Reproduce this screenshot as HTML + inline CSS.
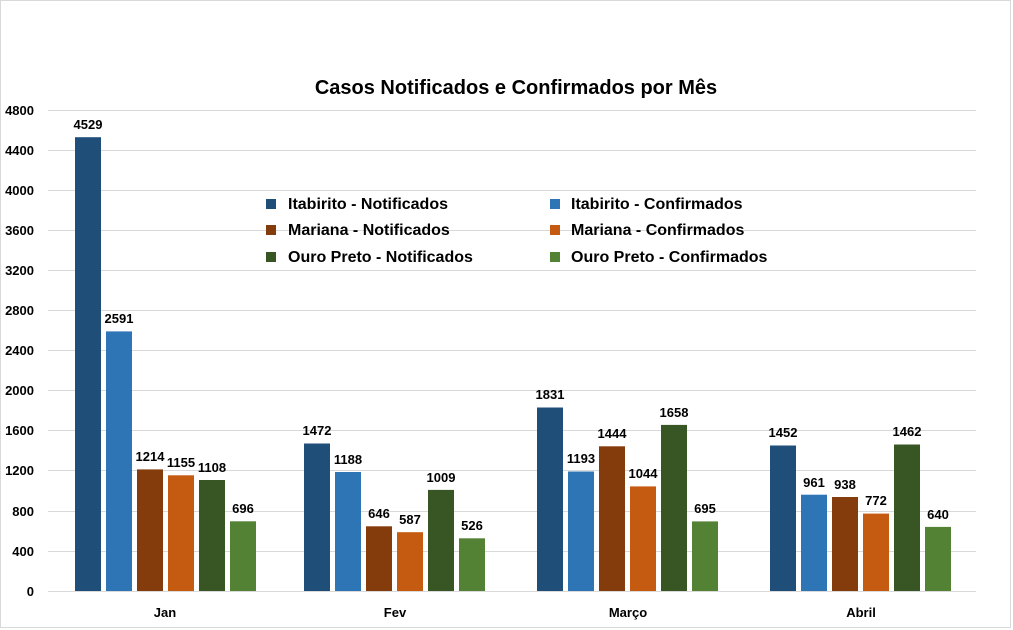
<!DOCTYPE html>
<html><head><meta charset="utf-8"><style>
html,body{margin:0;padding:0;background:#fff}
svg{display:block;font-family:"Liberation Sans",Arial,sans-serif}
</style></head><body>
<svg width="1013" height="630" xmlns="http://www.w3.org/2000/svg">
<rect x="0.5" y="0.5" width="1010" height="627" fill="#fff" stroke="#d9d9d9"/>
<text x="516" y="94" text-anchor="middle" font-size="20" font-weight="bold" fill="#000">Casos Notificados e Confirmados por Mês</text>
<g stroke="#d9d9d9" stroke-width="1">
<line x1="48" x2="976" y1="110.5" y2="110.5"/><line x1="48" x2="976" y1="150.5" y2="150.5"/>
<line x1="48" x2="976" y1="190.5" y2="190.5"/><line x1="48" x2="976" y1="230.5" y2="230.5"/>
<line x1="48" x2="976" y1="270.5" y2="270.5"/><line x1="48" x2="976" y1="310.5" y2="310.5"/>
<line x1="48" x2="976" y1="350.5" y2="350.5"/><line x1="48" x2="976" y1="390.5" y2="390.5"/>
<line x1="48" x2="976" y1="430.5" y2="430.5"/><line x1="48" x2="976" y1="470.5" y2="470.5"/>
<line x1="48" x2="976" y1="511.5" y2="511.5"/><line x1="48" x2="976" y1="551.5" y2="551.5"/>
<line x1="48" x2="976" y1="591.5" y2="591.5"/>
</g>
<g font-size="13" font-weight="bold" text-anchor="end" fill="#000">
<text x="34" y="115">4800</text><text x="34" y="155">4400</text><text x="34" y="195">4000</text>
<text x="34" y="235">3600</text><text x="34" y="275">3200</text><text x="34" y="315">2800</text>
<text x="34" y="355">2400</text><text x="34" y="395">2000</text><text x="34" y="435">1600</text>
<text x="34" y="475">1200</text><text x="34" y="516">800</text><text x="34" y="556">400</text>
<text x="34" y="596">0</text>
</g>
<g>
<rect x="75" y="137.2" width="26" height="453.8" fill="#1f4e79"/>
<rect x="106" y="331.4" width="26" height="259.6" fill="#2e75b6"/>
<rect x="137" y="469.4" width="26" height="121.6" fill="#843c0c"/>
<rect x="168" y="475.3" width="26" height="115.7" fill="#c55a11"/>
<rect x="199" y="480" width="26" height="111" fill="#375623"/>
<rect x="230" y="521.3" width="26" height="69.7" fill="#548235"/>
<rect x="304" y="443.5" width="26" height="147.5" fill="#1f4e79"/>
<rect x="335" y="472" width="26" height="119" fill="#2e75b6"/>
<rect x="366" y="526.3" width="26" height="64.7" fill="#843c0c"/>
<rect x="397" y="532.2" width="26" height="58.8" fill="#c55a11"/>
<rect x="428" y="489.9" width="26" height="101.1" fill="#375623"/>
<rect x="459" y="538.3" width="26" height="52.7" fill="#548235"/>
<rect x="537" y="407.5" width="26" height="183.5" fill="#1f4e79"/>
<rect x="568" y="471.5" width="26" height="119.5" fill="#2e75b6"/>
<rect x="599" y="446.3" width="26" height="144.7" fill="#843c0c"/>
<rect x="630" y="486.4" width="26" height="104.6" fill="#c55a11"/>
<rect x="661" y="424.9" width="26" height="166.1" fill="#375623"/>
<rect x="692" y="521.4" width="26" height="69.6" fill="#548235"/>
<rect x="770" y="445.5" width="26" height="145.5" fill="#1f4e79"/>
<rect x="801" y="494.7" width="26" height="96.3" fill="#2e75b6"/>
<rect x="832" y="497" width="26" height="94" fill="#843c0c"/>
<rect x="863" y="513.6" width="26" height="77.4" fill="#c55a11"/>
<rect x="894" y="444.5" width="26" height="146.5" fill="#375623"/>
<rect x="925" y="526.9" width="26" height="64.1" fill="#548235"/>
</g>
<g font-size="13" font-weight="bold" text-anchor="middle" fill="#000">
<text x="88" y="129">4529</text><text x="119" y="323">2591</text><text x="150" y="461">1214</text>
<text x="181" y="467">1155</text><text x="212" y="472">1108</text><text x="243" y="513">696</text>
<text x="317" y="435">1472</text><text x="348" y="464">1188</text><text x="379" y="518">646</text>
<text x="410" y="524">587</text><text x="441" y="482">1009</text><text x="472" y="530">526</text>
<text x="550" y="399">1831</text><text x="581" y="463">1193</text><text x="612" y="438">1444</text>
<text x="643" y="478">1044</text><text x="674" y="417">1658</text><text x="705" y="513">695</text>
<text x="783" y="437">1452</text><text x="814" y="487">961</text><text x="845" y="489">938</text>
<text x="876" y="505">772</text><text x="907" y="436">1462</text><text x="938" y="519">640</text>
</g>
<g font-size="13" font-weight="bold" text-anchor="middle" fill="#000">
<text x="165" y="617">Jan</text><text x="395" y="617">Fev</text><text x="628" y="617">Março</text><text x="861" y="617">Abril</text>
</g>
<g font-size="16" font-weight="bold" fill="#000">
<rect x="266" y="199" width="10" height="10" fill="#1f4e79"/><text x="288" y="209">Itabirito - Notificados</text>
<rect x="266" y="225" width="10" height="10" fill="#843c0c"/><text x="288" y="235">Mariana - Notificados</text>
<rect x="266" y="252" width="10" height="10" fill="#375623"/><text x="288" y="262">Ouro Preto - Notificados</text>
<rect x="550" y="199" width="10" height="10" fill="#2e75b6"/><text x="571" y="209">Itabirito - Confirmados</text>
<rect x="550" y="225" width="10" height="10" fill="#c55a11"/><text x="571" y="235">Mariana - Confirmados</text>
<rect x="550" y="252" width="10" height="10" fill="#548235"/><text x="571" y="262">Ouro Preto - Confirmados</text>
</g>
</svg>
</body></html>
